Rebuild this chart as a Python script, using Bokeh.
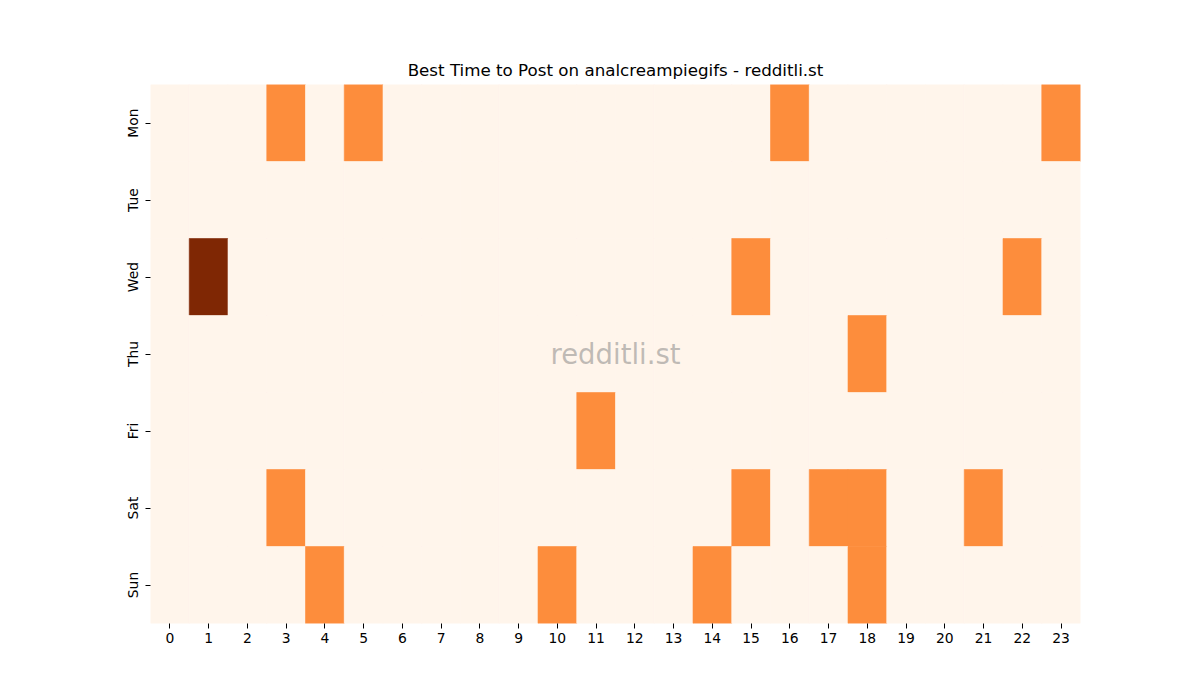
import math
from bokeh.plotting import figure
from bokeh.models import Range1d, FixedTicker, Label, ColumnDataSource
from bokeh.embed import file_html
from bokeh.resources import INLINE

days = ["Mon", "Tue", "Wed", "Thu", "Fri", "Sat", "Sun"]
hours = list(range(24))
mon = [0,0,0,1,0,1,0,0,0,0,0,0,0,0,0,0,1,0,0,0,0,0,0,1]
tue = [0]*24
wed = [0,2,0,0,0,0,0,0,0,0,0,0,0,0,0,1,0,0,0,0,0,0,1,0]
thu = [0,0,0,0,0,0,0,0,0,0,0,0,0,0,0,0,0,0,1,0,0,0,0,0]
fri = [0,0,0,0,0,0,0,0,0,0,0,1,0,0,0,0,0,0,0,0,0,0,0,0]
sat = [0,0,0,1,0,0,0,0,0,0,0,0,0,0,0,1,0,1,1,0,0,1,0,0]
sun = [0,0,0,0,1,0,0,0,0,0,1,0,0,0,1,0,0,0,1,0,0,0,0,0]
values = [mon, tue, wed, thu, fri, sat, sun]
palette = {0: "#fff5eb", 1: "#fd8d3c", 2: "#7f2704"}

xs, ys, cs = [], [], []
for di, row in enumerate(values):
    for h, v in zip(hours, row):
        xs.append(h)
        ys.append(di)
        cs.append(palette[v])
src = ColumnDataSource(dict(x=xs, y=ys, c=cs))

p = figure(width=1200, height=700, output_backend="svg", toolbar_location=None,
           x_range=Range1d(-0.5, 23.5), y_range=Range1d(6.5, -0.5),
           title="Best Time to Post on analcreampiegifs - redditli.st",
           min_border_left=150, min_border_right=120, min_border_top=84, min_border_bottom=77)
p.rect(x="x", y="y", width=1, height=1, fill_color="c", line_color="c", line_width=0.6, source=src)

p.title.align = "center"
p.title.text_font = "DejaVu Sans"
p.title.text_font_size = "16.7px"
p.title.text_font_style = "normal"
p.title.text_color = "black"

p.xgrid.visible = False
p.ygrid.visible = False
p.outline_line_color = None
for ax in (p.xaxis[0], p.yaxis[0]):
    ax.axis_line_color = None
    ax.major_tick_in = 0
    ax.major_tick_out = 5
    ax.minor_tick_line_color = None
    ax.major_tick_line_color = "black"
    ax.major_label_text_font = "DejaVu Sans"
    ax.major_label_text_font_size = "13.9px"
    ax.major_label_text_color = "black"
    ax.major_label_standoff = 4
p.xaxis[0].ticker = FixedTicker(ticks=hours)
p.xaxis[0].major_label_overrides = {h: str(h) for h in hours}
p.yaxis[0].ticker = FixedTicker(ticks=list(range(7)))
p.yaxis[0].major_label_overrides = {i: d for i, d in enumerate(days)}
p.yaxis[0].major_label_orientation = "vertical"
p.yaxis[0].major_label_standoff = 5

wm = Label(x=11.5, y=3, text="redditli.st", text_align="center", text_baseline="middle",
           text_font="DejaVu Sans", text_font_size="27.5px", text_color="gray", text_alpha=0.5)
p.add_layout(wm)

open("out.html", "w").write(file_html(p, INLINE))
